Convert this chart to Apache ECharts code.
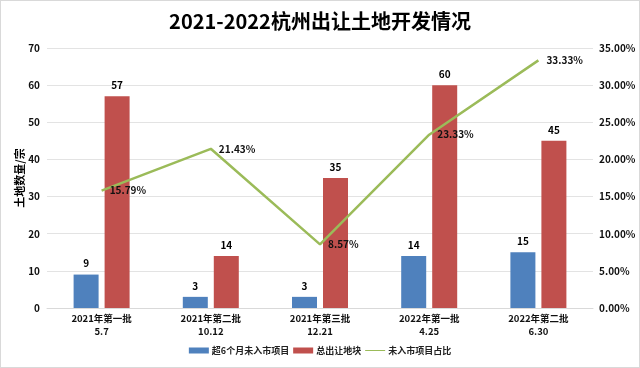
<!DOCTYPE html>
<html><head><meta charset="utf-8">
<script src="https://cdn.jsdelivr.net/npm/echarts@6/dist/echarts.min.js"></script>
<style>html,body{margin:0;padding:0;background:#fff}#c{width:638px;height:366px;border:1px solid #d9d9d9}</style>
</head><body><div id="c"></div>
<script>
const categories = ['2021年第一批\n5.7','2021年第二批\n10.12','2021年第三批\n12.21','2022年第一批\n4.25','2022年第二批\n6.30'];
const unlisted = [9,3,3,14,15];
const total = [57,14,35,60,45];
const ratio = [15.79,21.43,8.57,23.33,33.33];
const leftTicks = {min:0,max:70,interval:10};
const rightTicks = {min:0,max:35,interval:5};
const FF = '"Noto Sans CJK SC","Microsoft YaHei",sans-serif';
const chart = echarts.init(document.getElementById('c'));
chart.setOption({
  animation:false,
  textStyle:{fontFamily:FF},
  title:{text:'2021-2022杭州出让土地开发情况',left:'center',top:5,textStyle:{fontSize:20,fontWeight:'bold',color:'#000',fontFamily:FF}},
  legend:{bottom:7,itemWidth:20,itemHeight:6,itemGap:4,textStyle:{fontSize:9,fontWeight:'bold',color:'#222',padding:[0,0,0,-2]},
    data:[{name:'超6个月未入市项目',icon:'rect'},{name:'总出让地块',icon:'rect'},
      {name:'未入市项目占比',icon:'path://M0 0H0.1V0.1H0Z M0 2.5H26V4H0Z M0 6.4H0.1V6.5H0Z'}]},
  grid:{left:46,right:46,top:47,bottom:59,containLabel:false,outerBoundsMode:'none'},
  xAxis:{type:'category',data:categories,axisTick:{show:false},axisLine:{lineStyle:{color:'#d9d9d9'}},
    axisLabel:{fontSize:9.5,fontWeight:'bold',color:'#111',lineHeight:13,margin:4}},
  yAxis:[
    {type:'value',min:leftTicks.min,max:leftTicks.max,interval:leftTicks.interval,name:'土地数量/宗',nameLocation:'middle',nameRotate:90,nameGap:22,nameMoveOverlap:false,
     nameTextStyle:{fontSize:11,fontWeight:'bold',color:'#000'},
     axisLabel:{fontSize:10,fontWeight:'bold',color:'#111',margin:7},splitLine:{lineStyle:{color:'#e3e3e3'}},axisLine:{show:false},axisTick:{show:false}},
    {type:'value',min:rightTicks.min,max:rightTicks.max,interval:rightTicks.interval,position:'right',
     axisLabel:{fontSize:10,fontWeight:'bold',color:'#111',margin:6,formatter:v=>v.toFixed(2)+'%'},splitLine:{show:false},axisLine:{show:false},axisTick:{show:false}}
  ],
  series:[
    {name:'超6个月未入市项目',type:'bar',data:unlisted,barWidth:25,barGap:'24%',itemStyle:{color:'#4f81bd'},
     label:{show:true,position:'top',fontSize:10,fontWeight:'bold',color:'#000',distance:6}},
    {name:'总出让地块',type:'bar',data:total,barWidth:25,itemStyle:{color:'#c0504d'},
     label:{show:true,position:'top',fontSize:10,fontWeight:'bold',color:'#000',distance:6}},
    {name:'未入市项目占比',type:'line',yAxisIndex:1,data:ratio,symbol:'circle',symbolSize:0.1,showSymbol:true,lineStyle:{color:'#9bbb59',width:2.5},itemStyle:{color:'#9bbb59'},
     label:{show:true,position:'right',distance:8,fontSize:10,fontWeight:'bold',color:'#111',formatter:p=>p.value.toFixed(2)+'%'}}
  ]
});
</script></body></html>
